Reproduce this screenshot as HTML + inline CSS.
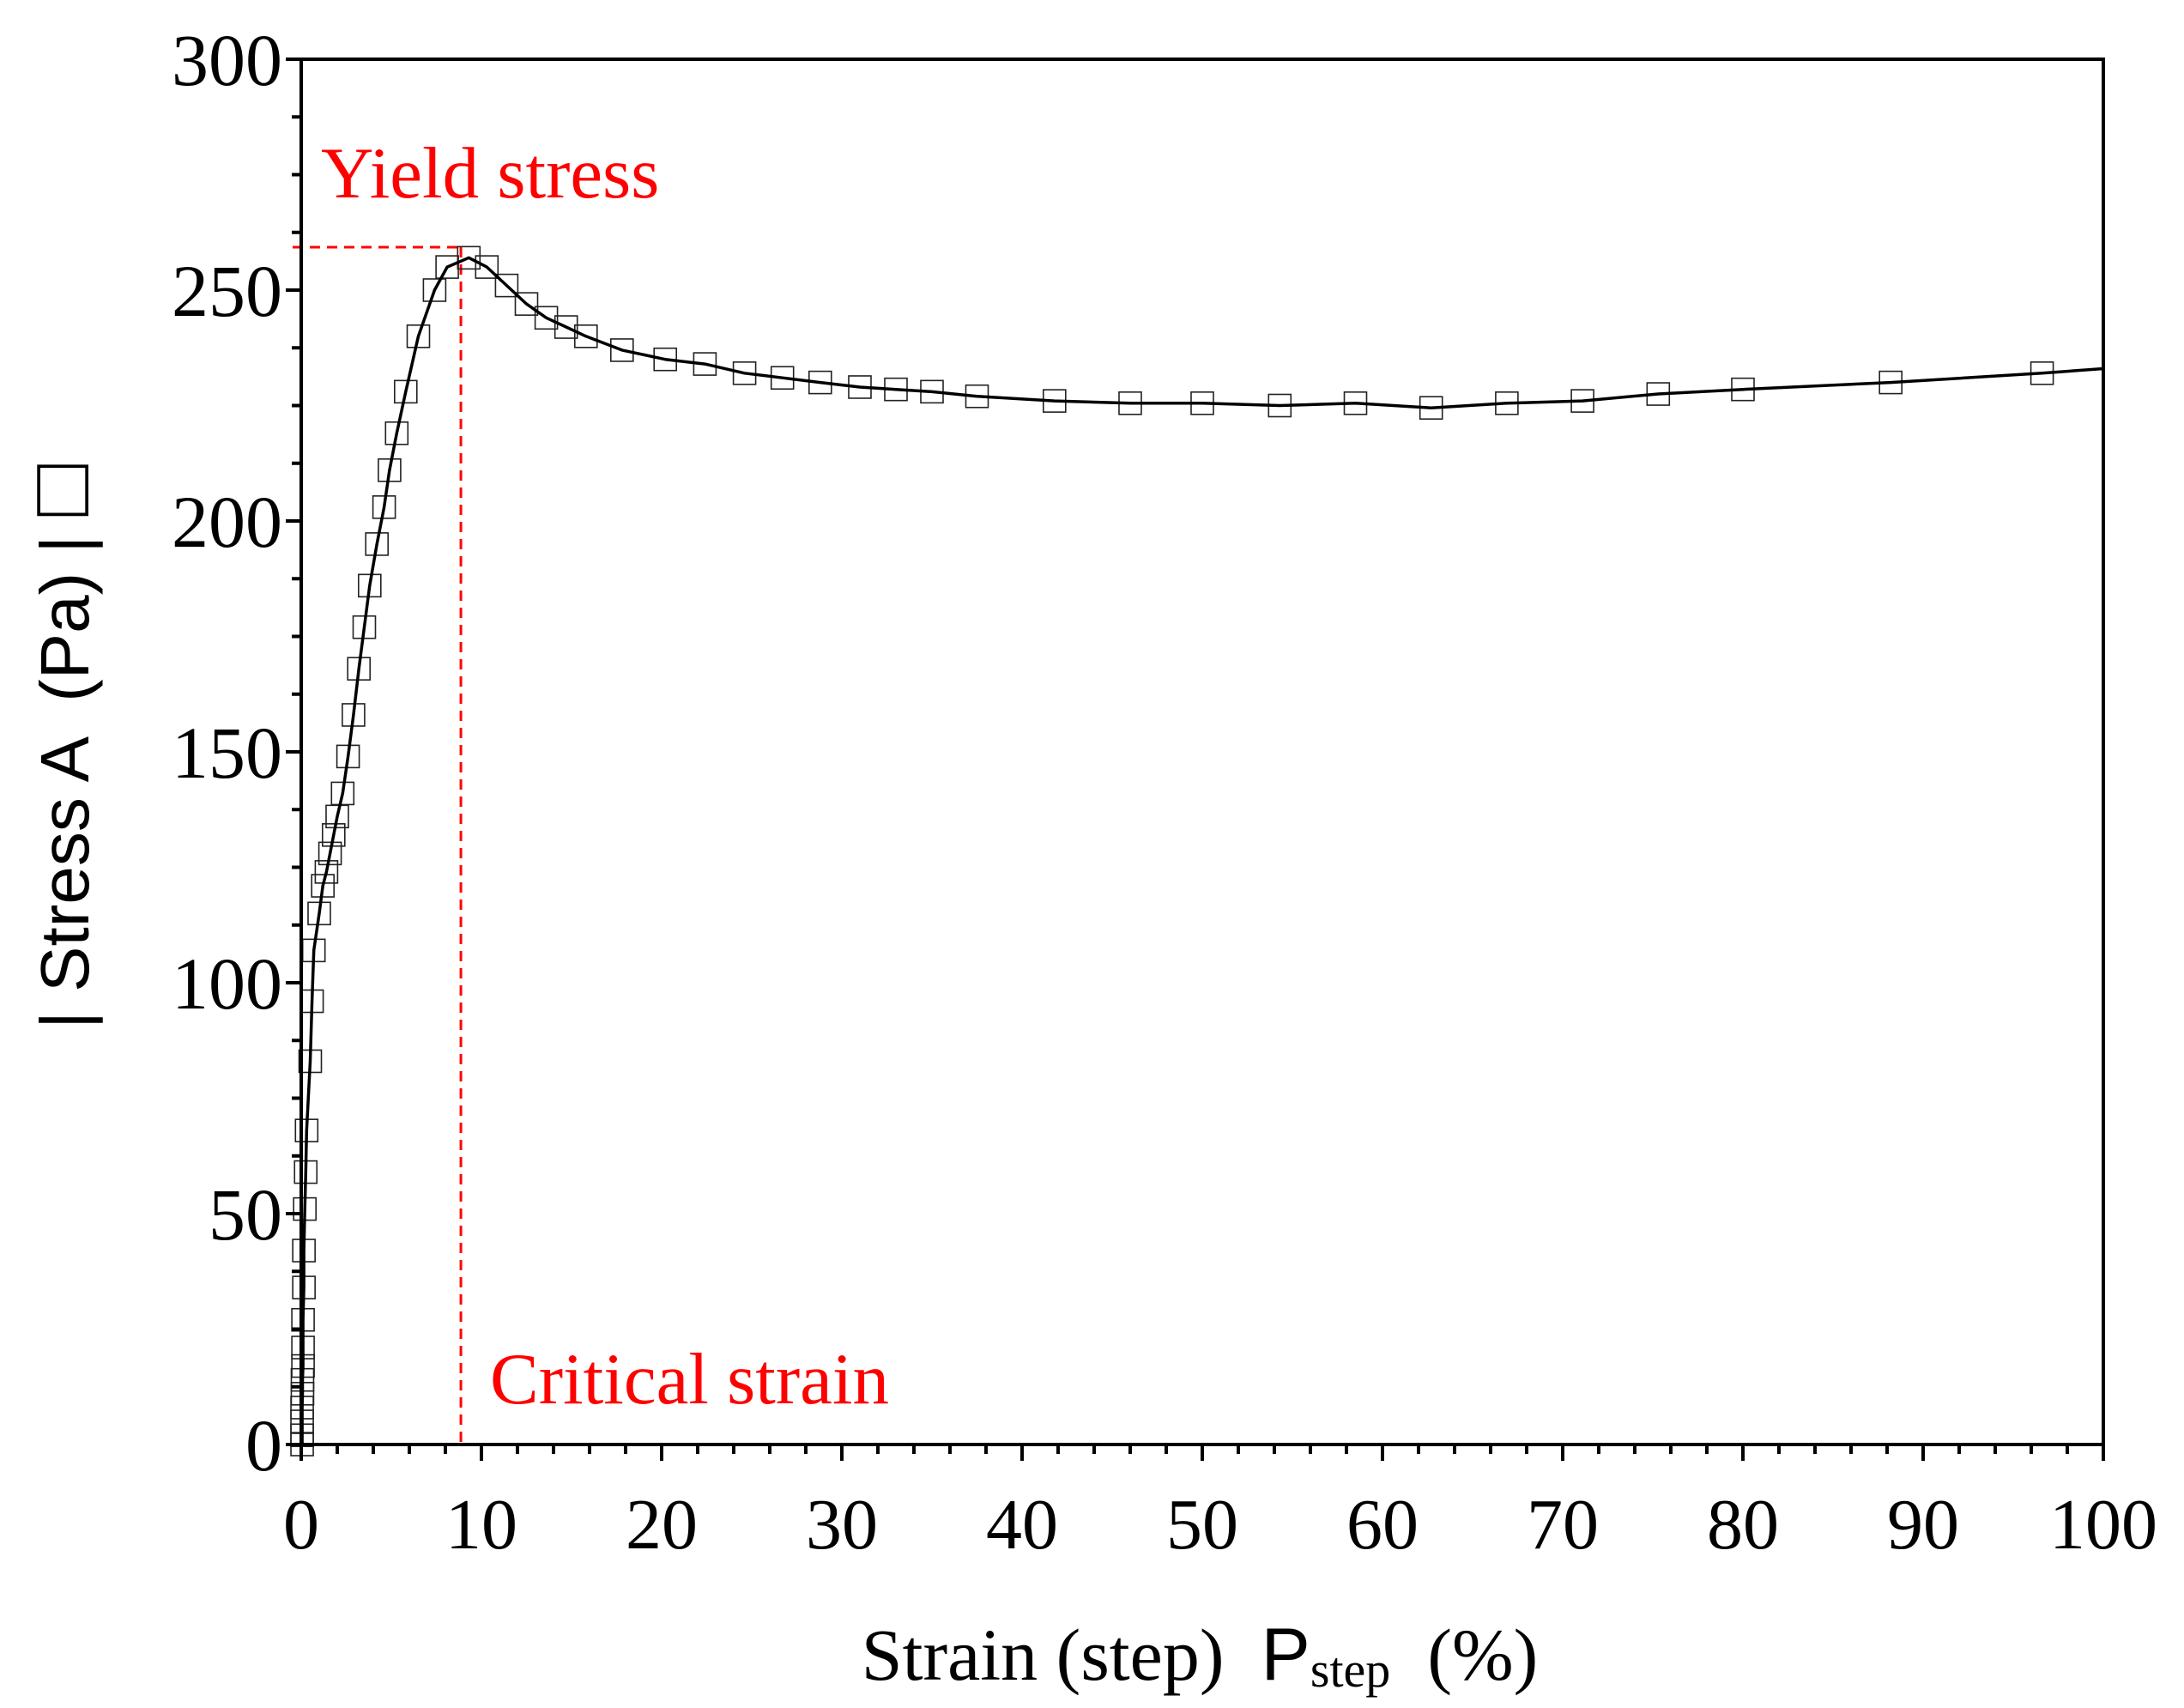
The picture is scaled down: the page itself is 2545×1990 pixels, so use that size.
<!DOCTYPE html>
<html><head><meta charset="utf-8"><style>
html,body{margin:0;padding:0;background:#fff;}
svg{display:block;}
</style></head><body>
<svg id="chart" width="2545" height="1990" viewBox="0 0 2545 1990" xmlns="http://www.w3.org/2000/svg">
<g id="grid"></g>
<g id="series"></g>
<g id="axes"></g>
<text x="374" y="230" font-family="Liberation Serif, serif" font-size="85" fill="#ff0000">Yield stress</text>
<text x="571" y="1635" font-family="Liberation Serif, serif" font-size="85" fill="#ff0000">Critical strain</text>
<text x="1398" y="1957" text-anchor="middle" font-family="Liberation Serif, serif" font-size="86" fill="#000" xml:space="preserve">Strain (step)  <tspan font-family="Liberation Sans, sans-serif">P</tspan><tspan font-size="58" dy="8">step</tspan><tspan dy="-8">  (%)</tspan></text>
<text transform="translate(103,870) rotate(-90)" text-anchor="middle" font-family="Liberation Sans, sans-serif" font-size="80" fill="#000" xml:space="preserve">| Stress A  (Pa) | <tspan font-size="100">□</tspan></text>
</svg>
<script>
const xs = [0.05,0.05,0.05,0.05,0.07,0.07,0.1,0.1,0.1,0.15,0.15,0.2,0.25,0.3,0.5,0.6,0.7,1.0,1.2,1.4,1.6,1.8,2.0,2.3,2.6,2.9,3.2,3.5,3.8,4.2,4.6,4.9,5.3,5.8,6.5,7.4,8.1,9.3,10.3,11.4,12.5,13.6,14.7,15.8,17.8,20.2,22.4,24.6,26.7,28.8,31,33,35,37.5,41.8,46,50,54.3,58.5,62.7,66.9,71.1,75.3,80,88.2,96.6];
const ys = [0,2,5,8,11,14,17,21,27,34,42,51,59,68,83,96,107,115,121,124,128,132,136,141,149,158,168,177,186,195,203,211,219,228,240,250,255,257,255,251,247,244,242,240,237,235,234,232,231,230,229,228.5,228,227,226,225.5,225.5,225,225.5,224.5,225.5,226,227.5,228.5,230,232];
const lineEndX = [100];
const lineEndY = [233];
const xTicks = [0,10,20,30,40,50,60,70,80,90,100];
const yTicks = [0,50,100,150,200,250,300];
const yieldStress = [259.3];
const criticalStrain = [8.86];

const NS='http://www.w3.org/2000/svg';
const X0=351,X1=2451,Y0=1683,Y1=69;
const sx=v=>X0+(v/100)*(X1-X0);
const sy=v=>Y0-(v/300)*(Y0-Y1);
function mk(tag,attrs,parent){const e=document.createElementNS(NS,tag);for(const k in attrs)e.setAttribute(k,attrs[k]);parent.appendChild(e);return e;}
const series=document.getElementById('series');
const axes=document.getElementById('axes');
const grid=document.getElementById('grid');

let hl=mk('line',{x1:X0-10,x2:sx(criticalStrain[0]),y1:sy(yieldStress[0]),y2:sy(yieldStress[0]),stroke:'#ff0000','stroke-width':3,'stroke-dasharray':'12,8'},grid);


let vl=mk('line',{x1:sx(criticalStrain[0]),x2:sx(criticalStrain[0]),y1:sy(yieldStress[0]),y2:Y0,stroke:'#ff0000','stroke-width':3,'stroke-dasharray':'12,8'},grid);



for(let i=0;i<xs.length;i++){
  const r=mk('rect',{x:sx(xs[i])-13,y:sy(ys[i])-13,width:26,height:26,fill:'none',stroke:'#222','stroke-width':1.6},series);
  
  
}
let d='M'+sx(0)+','+sy(0);
for(let i=0;i<xs.length;i++)d+=' L'+sx(xs[i]).toFixed(1)+','+sy(ys[i]).toFixed(1);
for(let i=0;i<lineEndX.length;i++)d+=' L'+sx(lineEndX[i])+','+sy(lineEndY[i]);
const p=mk('path',{d:d,fill:'none',stroke:'#000','stroke-width':3.5,'stroke-linejoin':'round'},series);



const fr=mk('rect',{x:X0,y:Y1,width:X1-X0,height:Y0-Y1,fill:'none',stroke:'#000','stroke-width':4},axes);



for(let v=0;v<=300;v+=12.5){
  const major=(v%50===0);
  const t=mk('line',{x1:X0,x2:X0-(major?18:11),y1:sy(v),y2:sy(v),stroke:'#000','stroke-width':4},axes);
  
  
}
yTicks.forEach(v=>{
  const t=mk('text',{x:X0-22,y:sy(v)+30,'text-anchor':'end','font-family':'Liberation Serif, serif','font-size':86,fill:'#000'},axes);
  t.textContent=v;
  
  
});
for(let v=0;v<=100;v+=2){
  const major=(v%10===0);
  const t=mk('line',{x1:sx(v),x2:sx(v),y1:Y0,y2:Y0+(major?19:11),stroke:'#000','stroke-width':4},axes);
  
  
}
xTicks.forEach(v=>{
  const t=mk('text',{x:sx(v),y:1804,'text-anchor':'middle','font-family':'Liberation Serif, serif','font-size':84,fill:'#000'},axes);
  t.textContent=v;
  
  
});
</script>
</body></html>
